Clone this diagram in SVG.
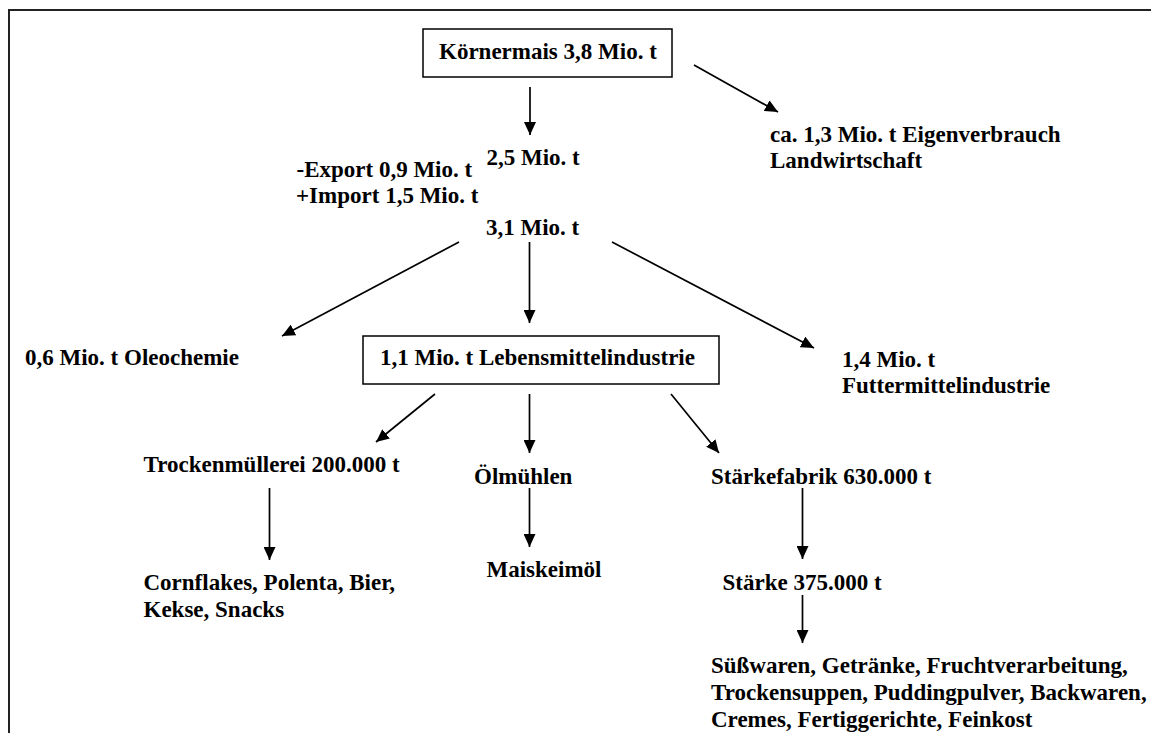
<svg xmlns="http://www.w3.org/2000/svg" width="1151" height="733" viewBox="0 0 1151 733">
<style>
text{font-family:"Liberation Serif","Times New Roman",serif;font-weight:bold;font-size:23px;fill:#000}
.box{fill:#fff;stroke:#000;stroke-width:1.5}
.c line{stroke:#000;stroke-width:1.7;marker-end:url(#ah)}
</style>
<defs>
<marker id="ah" markerUnits="userSpaceOnUse" markerWidth="14" markerHeight="12" refX="13" refY="6" orient="auto"><path d="M0,0 L13,6 L0,12 z" fill="#000"/></marker>
</defs>
<rect width="1151" height="733" fill="#fff"/>
<rect x="9" y="10" width="1160" height="740" fill="none" stroke="#222" stroke-width="2"/>
<g class="c" id="connectors">
<line x1="530" y1="87" x2="530" y2="135"/>
<line x1="694" y1="65" x2="778" y2="112"/>
<line x1="459" y1="242" x2="282" y2="336"/>
<line x1="529.5" y1="242" x2="529.5" y2="323"/>
<line x1="612" y1="242" x2="814" y2="348"/>
<line x1="435" y1="394" x2="376" y2="442"/>
<line x1="529.5" y1="394" x2="529.5" y2="453"/>
<line x1="671" y1="394" x2="719" y2="453"/>
<line x1="269.5" y1="488" x2="269.5" y2="560"/>
<line x1="529.5" y1="488" x2="529.5" y2="547"/>
<line x1="802.5" y1="488" x2="802.5" y2="559"/>
<line x1="802.5" y1="595" x2="802.5" y2="643"/>
</g>
<g id="koernermais"><rect class="box" x="423" y="29" width="249" height="48"/><text x="439" y="59">Körnermais 3,8 Mio. t</text></g>
<g id="n25"><text x="486.5" y="165">2,5 Mio. t</text></g>
<g id="exportimport"><text x="296.5" y="177">-Export 0,9 Mio. t</text><text x="296" y="203">+Import 1,5 Mio. t</text></g>
<g id="n31"><text x="486" y="235">3,1 Mio. t</text></g>
<g id="eigenverbrauch"><text x="770" y="142">ca. 1,3 Mio. t Eigenverbrauch</text><text x="770" y="168">Landwirtschaft</text></g>
<g id="oleochemie"><text x="25" y="365">0,6 Mio. t Oleochemie</text></g>
<g id="lebensmittel"><rect class="box" x="363" y="336" width="356" height="48"/><text x="380" y="365">1,1 Mio. t Lebensmittelindustrie</text></g>
<g id="futtermittel"><text x="842" y="367">1,4 Mio. t</text><text x="842" y="393">Futtermittelindustrie</text></g>
<g id="trockenmuellerei"><text x="143.5" y="472">Trockenmüllerei 200.000 t</text></g>
<g id="oelmuehlen"><text x="474" y="484">Ölmühlen</text></g>
<g id="staerkefabrik"><text x="711" y="484">Stärkefabrik 630.000 t</text></g>
<g id="cornflakes"><text x="143.5" y="590">Cornflakes, Polenta, Bier,</text><text x="143.5" y="617">Kekse, Snacks</text></g>
<g id="maiskeimoel"><text x="486.5" y="577">Maiskeimöl</text></g>
<g id="staerke"><text x="722.5" y="590">Stärke 375.000 t</text></g>
<g id="produkte"><text x="711" y="673">Süßwaren, Getränke, Fruchtverarbeitung,</text><text x="711" y="700">Trockensuppen, Puddingpulver, Backwaren,</text><text x="711" y="727">Cremes, Fertiggerichte, Feinkost</text></g>
</svg>
